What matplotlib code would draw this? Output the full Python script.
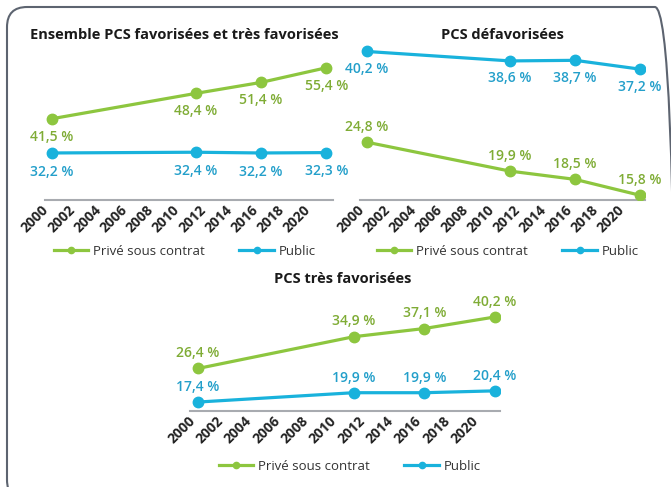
import matplotlib
matplotlib.use('Agg')
import matplotlib.pyplot as plt
from matplotlib.patches import FancyBboxPatch

plt.rcParams['font.family'] = ['Open Sans', 'DejaVu Sans']

# data
years = [2000, 2011, 2016, 2021]
tick_years = list(range(2000, 2021, 2))

fav_prive = [41.5, 48.4, 51.4, 55.4]
fav_public = [32.2, 32.4, 32.2, 32.3]

defav_prive = [24.8, 19.9, 18.5, 15.8]
defav_public = [40.2, 38.6, 38.7, 37.2]

tres_prive = [26.4, 34.9, 37.1, 40.2]
tres_public = [17.4, 19.9, 19.9, 20.4]

green = '#8dc63f'
blue = '#19b2dc'
green_txt = '#7fac35'
blue_txt = '#239fca'

W, H = 671, 487
fig = plt.figure(figsize=(W / 100, H / 100), dpi=100)


def rect(l, r, t, b):
    return [l / W, 1 - b / H, (r - l) / W, (b - t) / H]


def fmt(v):
    return ('%.1f %%' % v).replace('.', ',')


def panel(box, xlim, ylim, title, title_xy, prive, public, prive_off, public_off, leg_xy):
    ax = fig.add_axes(rect(*box))
    ax.plot(years, prive, color=green, lw=2.3, marker='o', ms=7.5, label='Privé sous contrat', zorder=3)
    ax.plot(years, public, color=blue, lw=2.3, marker='o', ms=7.5, label='Public', zorder=3)
    for x, v in zip(years, prive):
        ax.annotate(fmt(v), (x, v), xytext=(0, prive_off), textcoords='offset points',
                    ha='center', va='center', color=green_txt, fontsize=10, fontweight='semibold')
    for x, v in zip(years, public):
        ax.annotate(fmt(v), (x, v), xytext=(0, public_off), textcoords='offset points',
                    ha='center', va='center', color=blue_txt, fontsize=10, fontweight='semibold')
    ax.set_xlim(*xlim)
    ax.set_ylim(*ylim)
    for s in ['top', 'right', 'left']:
        ax.spines[s].set_visible(False)
    ax.spines['bottom'].set_color('#a8abb0')
    ax.spines['bottom'].set_linewidth(1.5)
    ax.set_yticks([])
    ax.set_xticks(tick_years)
    ax.set_xticklabels([str(y) for y in tick_years], rotation=45, ha='right',
                       fontsize=10, fontweight='bold', color='#222222')
    ax.tick_params(axis='x', length=0, pad=2)
    ax.patch.set_alpha(0)
    fig.text(title_xy[0] / W, 1 - title_xy[1] / H, title, ha='center', va='center',
             fontsize=10.5, fontweight='bold', color='#1a1a1a')
    leg = ax.legend(loc='center', bbox_to_anchor=(leg_xy[0] / W, 1 - leg_xy[1] / H),
                    bbox_transform=fig.transFigure, ncol=2, frameon=False,
                    handlelength=2.6, columnspacing=2.6, handletextpad=0.4,
                    fontsize=9.5, markerscale=0.6)
    for t in leg.get_texts():
        t.set_color('#333333')
    return ax


panel((45, 333, 60, 200), (1999.5, 2021.5), (19.4, 57.5),
      'Ensemble PCS favorisées et très favorisées', (184, 35),
      fav_prive, fav_public, -13, -13.5, (185, 251))

panel((360, 645, 45, 200), (1999.46, 2021.38), (15, 41.3),
      'PCS défavorisées', (502, 35),
      defav_prive, defav_public, 11, -12.5, (508, 251))

panel((190, 500, 305, 411), (1999.43, 2021.35), (15, 43.4),
      'PCS très favorisées', (343, 279),
      tres_prive, tres_public, 11, 10.5, (350, 466))

frame = FancyBboxPatch((7 / W, 1 - 500 / H), (675 - 7) / W, (500 - 7) / H,
                       boxstyle='round,pad=0,rounding_size=0.03',
                       transform=fig.transFigure, fill=False,
                       edgecolor='#5d6470', lw=1.5, mutation_aspect=W / H)
fig.patches.append(frame)

fig.savefig('out.png', dpi=100)
